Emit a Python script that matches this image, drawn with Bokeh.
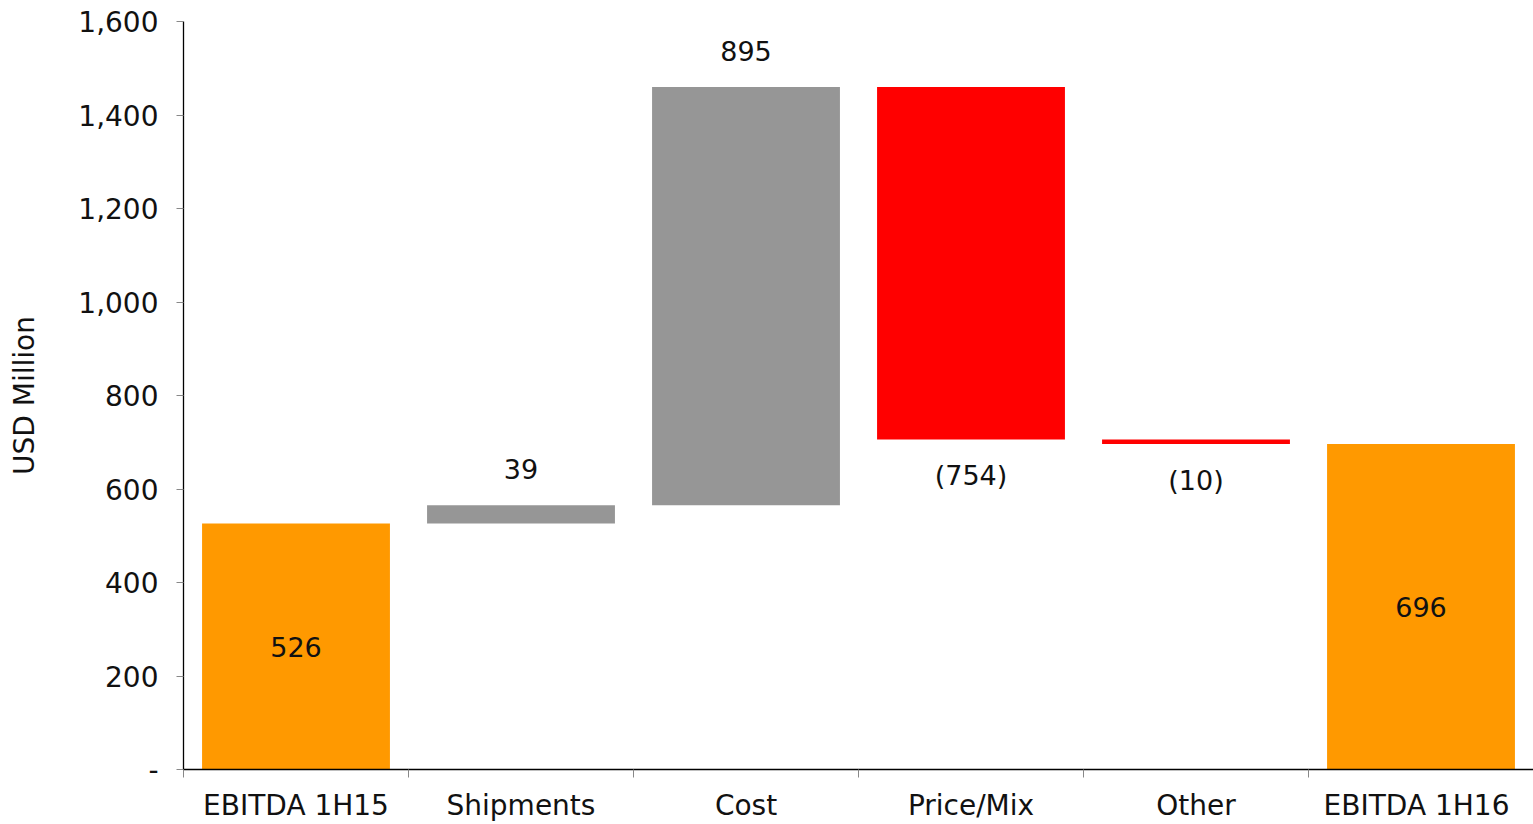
from bokeh.plotting import figure
from bokeh.models import ColumnDataSource, FixedTicker, LabelSet, NumeralTickFormatter
from bokeh.core.properties import value
from bokeh.embed import file_html
from bokeh.resources import INLINE

categories = ["EBITDA 1H15", "Shipments", "Cost", "Price/Mix", "Other", "EBITDA  1H16"]
changes = [526, 39, 895, -754, -10, 696]
kinds = ["total", "delta", "delta", "delta", "delta", "total"]
y_ticks = [0, 200, 400, 600, 800, 1000, 1200, 1400, 1600]

ORANGE = "#FF9900"
GRAY = "#969696"
RED = "#FF0000"
FONT = "DejaVu Sans"

bottoms, tops, colors, labels, xs = [], [], [], [], []
running = 0
for i, (v, k) in enumerate(zip(changes, kinds)):
    xs.append(i + 0.5)
    if k == "total":
        bottoms.append(0)
        tops.append(v)
        colors.append(ORANGE)
        labels.append(f"{v:,}")
        running = v
    else:
        start = running
        running = running + v
        bottoms.append(min(start, running))
        tops.append(max(start, running))
        colors.append(GRAY if v >= 0 else RED)
        labels.append(f"{v:,}" if v >= 0 else f"({abs(v):,})")

src = ColumnDataSource(dict(x=xs, bottom=bottoms, top=tops, color=colors))

mid_x, mid_y, mid_t = [], [], []
up_x, up_y, up_t = [], [], []
dn_x, dn_y, dn_t = [], [], []
for i, (v, k) in enumerate(zip(changes, kinds)):
    if k == "total":
        mid_x.append(xs[i]); mid_y.append(tops[i] / 2); mid_t.append(labels[i])
    elif v >= 0:
        up_x.append(xs[i]); up_y.append(tops[i]); up_t.append(labels[i])
    else:
        dn_x.append(xs[i]); dn_y.append(bottoms[i]); dn_t.append(labels[i])

p = figure(width=1533, height=824, x_range=(0, 6), y_range=(0, 1600),
           output_backend="svg", toolbar_location=None,
           min_border_left=183, min_border_right=0, min_border_top=21, min_border_bottom=55)
p.outline_line_color = None
p.xgrid.visible = False
p.ygrid.visible = False

p.vbar(x="x", bottom="bottom", top="top", width=0.835, color="color", source=src, line_color=None)

common = dict(text_font=value(FONT), text_font_size="27px", text_color="#111111",
              text_align="center", text_baseline="middle")
p.add_layout(LabelSet(x="x", y="y", text="t", source=ColumnDataSource(dict(x=mid_x, y=mid_y, t=mid_t)), **common))
p.add_layout(LabelSet(x="x", y="y", text="t", y_offset=36, source=ColumnDataSource(dict(x=up_x, y=up_y, t=up_t)), **common))
p.add_layout(LabelSet(x="x", y="y", text="t", y_offset=-36, source=ColumnDataSource(dict(x=dn_x, y=dn_y, t=dn_t)), **common))

# y axis
p.yaxis.ticker = FixedTicker(ticks=y_ticks)
p.yaxis.formatter = NumeralTickFormatter(format="0,0")
p.yaxis.major_label_overrides = {0: "-"}
p.yaxis.axis_label = "USD Million"
p.yaxis.axis_label_text_font = FONT
p.yaxis.axis_label_text_font_size = "28px"
p.yaxis.axis_label_text_font_style = "normal"
p.yaxis.axis_label_text_color = "#111111"
p.yaxis.axis_label_standoff = 34
p.yaxis.major_label_text_font = FONT
p.yaxis.major_label_text_font_size = "28px"
p.yaxis.major_label_text_color = "#111111"
p.yaxis.major_label_standoff = 18
p.yaxis.major_tick_out = 7
p.yaxis.major_tick_in = 0
p.yaxis.minor_tick_out = 0
p.yaxis.minor_tick_in = 0
p.yaxis.major_tick_line_color = "#888888"
p.yaxis.axis_line_color = "#000000"
p.yaxis.axis_line_width = 1.3

# x axis
p.xaxis.ticker = FixedTicker(ticks=xs, minor_ticks=[0, 1, 2, 3, 4, 5, 6])
p.xaxis.major_label_overrides = {x: c for x, c in zip(xs, categories)}
p.xaxis.major_label_text_font = FONT
p.xaxis.major_label_text_font_size = "28px"
p.xaxis.major_label_text_color = "#111111"
p.xaxis.major_label_standoff = 11
p.xaxis.major_tick_out = 0
p.xaxis.major_tick_in = 0
p.xaxis.minor_tick_out = 8
p.xaxis.minor_tick_in = 0
p.xaxis.minor_tick_line_color = "#888888"
p.xaxis.axis_line_color = "#000000"
p.xaxis.axis_line_width = 1.3

open("out.html", "w").write(file_html(p, INLINE))
